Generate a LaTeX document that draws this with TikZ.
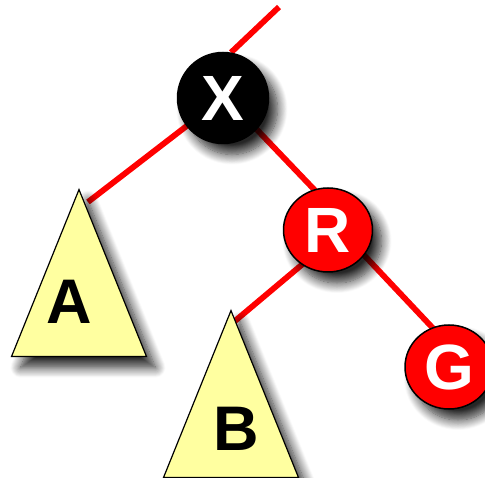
\documentclass[tikz,border=0pt]{standalone}
\usepackage{fontspec}
\setmainfont{Liberation Sans}
\usepackage{tikz}
\usetikzlibrary{shapes.geometric,shadows.blur,backgrounds}
\definecolor{rbred}{RGB}{255,0,0}
\definecolor{rbyellow}{RGB}{255,255,160}
\tikzstyle{link} = [line width=5.8pt, color=rbred]
\tikzstyle{rbshadow} = [blur shadow={shadow xshift=9pt, shadow yshift=-11pt, shadow blur radius=10pt, shadow blur steps=12, shadow opacity=85}]
\tikzstyle{rbnode} = [circle, draw=black, line width=1.5pt, minimum size=91pt, inner sep=0pt, text=white, font=\bfseries\fontsize{64}{64}\selectfont, rbshadow]
\tikzstyle{subtree} = [isosceles triangle, isosceles triangle stretches, shape border rotate=90, draw=black, line width=1.2pt, fill=rbyellow, minimum width=135pt, minimum height=167pt, inner sep=0pt, rbshadow]
\tikzstyle{subname} = [anchor=base, font=\bfseries\fontsize{63}{63}\selectfont]

\begin{document}
\begin{tikzpicture}[x=1pt, y=-1pt]
\useasboundingbox (0,0) rectangle (485,478);
% tree nodes
\node[rbnode, fill=black] (X) at (223,98) {X};
\node[rbnode, ellipse, fill=rbred, minimum width=89pt, minimum height=84pt] (R) at (328,230) {R};
\node[rbnode, ellipse, fill=rbred, minimum width=88pt, minimum height=84pt] (G) at (449,367) {G};
% subtrees
\node[subtree, anchor=apex, label={[subname, xshift=-10pt, yshift=34pt]south:A}] (A) at (79,188) {};
\node[subtree, anchor=apex, label={[subname, xshift=5pt, yshift=28pt]south:B}] (B) at (231,309) {};

% links behind the nodes
\begin{scope}[on background layer]
\coordinate (root) at (279,7);
\coordinate (A-top) at (88,202);
\coordinate (B-top) at (229,326);
\draw[link] (root) -- (X.80);
\draw[link] (X.center) -- (A-top);
\draw[link, shorten <=-8pt, shorten >=-8pt] (X.-43) -- (R.109);
\draw[link, shorten <=-8pt] (R.233) -- (B-top);
\draw[link, shorten <=-8pt, shorten >=-8pt] (R.-35) -- (G.113);
\end{scope}
\end{tikzpicture}
\end{document}
